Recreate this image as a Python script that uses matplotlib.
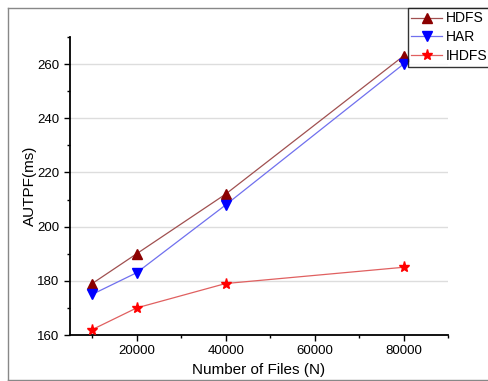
import matplotlib
matplotlib.use("Agg")
import matplotlib.pyplot as plt
from matplotlib.ticker import MultipleLocator
from matplotlib.lines import Line2D

plt.rcParams['font.family'] = ['Liberation Sans', 'DejaVu Sans']

files = [10000, 20000, 40000, 80000]
hdfs = [179, 190, 212, 263]
har = [175, 183, 208, 260]
ihdfs = [162, 170, 179, 185]
labels = ["HDFS", "HAR", "IHDFS"]

W, H = 488, 381
fig = plt.figure(figsize=(W / 100, H / 100), dpi=100)
ax = fig.add_axes([70 / W, 1 - 335 / H, (448 - 70) / W, (335 - 37) / H])

ax.plot(files, hdfs, color="#a05050", lw=0.9, marker="^", ms=6.5,
        mfc="#8b0000", mec="#8b0000", label=labels[0], zorder=3)
ax.plot(files, har, color="#7070ee", lw=0.9, marker="v", ms=6.5,
        mfc="#0000ff", mec="#0000ff", label=labels[1], zorder=3)
ax.plot(files, ihdfs, color="#e06060", lw=0.9, marker="*", ms=8,
        mfc="#ff0000", mec="#ff0000", label=labels[2], zorder=3)

ax.set_xlim(5000, 90000)
ax.set_ylim(160, 270)
ax.xaxis.set_minor_locator(MultipleLocator(10000))
ax.yaxis.set_major_locator(MultipleLocator(20))
ax.yaxis.set_minor_locator(MultipleLocator(10))
ax.set_xticks([20000, 40000, 60000, 80000])
ax.grid(axis="y", which="major", color="#dddddd", lw=1.0, zorder=0)
for s in ["top", "right"]:
    ax.spines[s].set_visible(False)
for s in ["left", "bottom"]:
    ax.spines[s].set_linewidth(1.3)
ax.tick_params(which="major", direction="out", length=4, width=1, labelsize=9.5)
ax.tick_params(which="minor", direction="out", length=2.5, width=1)
ax.set_xlabel("Number of Files (N)", fontsize=11, labelpad=4)
ax.set_ylabel("AUTPF(ms)", fontsize=11, labelpad=0)

leg = fig.legend(loc="upper left", bbox_to_anchor=(408 / W, 1 - 8 / H),
                 frameon=True, fancybox=False, edgecolor="black",
                 fontsize=10, handlelength=2.2, handletextpad=0.3,
                 borderpad=0.25, labelspacing=0.35, borderaxespad=0)
leg.get_frame().set_linewidth(1.0)

# figure frame
fc = "#888888"
fig.add_artist(Line2D([8 / W, 8 / W], [1 - 8 / H, 1 - 380 / H], color=fc, lw=1, transform=fig.transFigure))
fig.add_artist(Line2D([8 / W, 1], [1 - 8 / H, 1 - 8 / H], color=fc, lw=1, transform=fig.transFigure))
fig.add_artist(Line2D([8 / W, 1], [1 - 380 / H, 1 - 380 / H], color=fc, lw=1, transform=fig.transFigure))

fig.savefig("out.png", dpi=100)
